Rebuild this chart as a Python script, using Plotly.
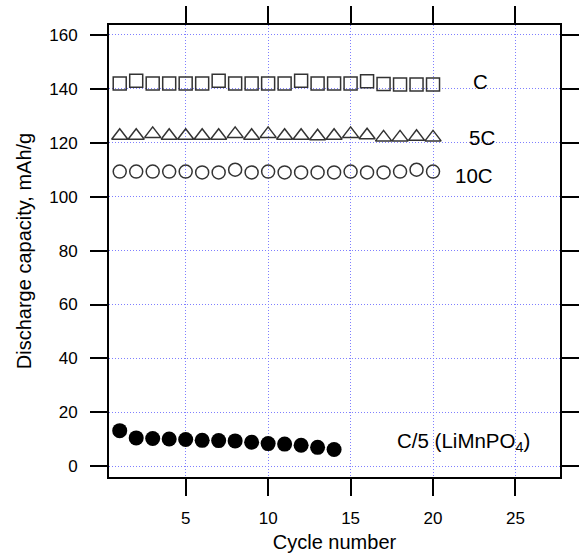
import plotly.graph_objects as go

cycles_c = list(range(1, 21))
cap_c = [142.0, 143.0, 142.0, 142.0, 142.0, 142.0, 143.0, 142.0, 142.0, 142.0,
         142.0, 143.0, 142.0, 142.0, 142.0, 142.8, 141.8, 141.6, 141.6, 141.6]
cap_5c = [122.6, 122.6, 123.3, 122.6, 122.6, 122.6, 122.6, 123.3, 122.6, 123.3,
          122.6, 122.6, 122.4, 122.6, 123.3, 122.8, 122.0, 122.0, 122.2, 122.0]
cap_10c = [109.3, 109.3, 109.3, 109.3, 109.3, 109.0, 109.0, 110.0, 109.0, 109.3,
           109.0, 109.0, 109.0, 109.0, 109.3, 109.0, 109.0, 109.3, 110.0, 109.3]
cycles_lmp = list(range(1, 15))
cap_lmp = [13.2, 10.5, 10.3, 10.1, 9.9, 9.6, 9.5, 9.4, 8.9, 8.4, 8.2, 7.8, 7.0, 6.2]

labels = ["C", "5C", "10C", "C/5 (LiMnPO<sub>4</sub>)"]
label_x = [22.9, 22.97, 22.5, 21.84]
label_y = [142.7, 122.0, 107.9, 9.0]

x_ticks = [5, 10, 15, 20, 25]
y_ticks = [0, 20, 40, 60, 80, 100, 120, 140, 160]

FONT = "Liberation Sans, Arial, Helvetica"
mk_line = dict(color="#333333", width=1.5)
fig = go.Figure()
fig.add_trace(go.Scatter(x=cycles_c, y=cap_c, mode="markers",
                         marker=dict(symbol="square-open", size=13, color="#333333", line=mk_line)))
fig.add_trace(go.Scatter(x=cycles_c, y=cap_5c, mode="markers",
                         marker=dict(symbol="triangle-up-open", size=14, color="#333333", line=mk_line)))
fig.add_trace(go.Scatter(x=cycles_c, y=cap_10c, mode="markers",
                         marker=dict(symbol="circle-open", size=13, color="#333333", line=mk_line)))
fig.add_trace(go.Scatter(x=cycles_lmp, y=cap_lmp, mode="markers",
                         marker=dict(symbol="circle", size=15, color="black")))

for t, x, y in zip(labels, label_x, label_y):
    fig.add_annotation(x=x, y=y, text=t, showarrow=False, xanchor="center", yanchor="middle",
                       font=dict(size=20.5, color="black", family=FONT))

axis_common = dict(showline=True, linewidth=2, linecolor="black", mirror="ticks",
                   ticks="outside", ticklen=17, tickwidth=2, tickcolor="black",
                   showgrid=True, gridcolor="#7f7fff", griddash="1px,2px", gridwidth=1,
                   zeroline=False, automargin=False,
                   tickfont=dict(size=17, color="black", family=FONT))

fig.update_xaxes(range=[0.35, 27.7], tickvals=x_ticks, ticklabelstandoff=8,
                 title=dict(text="Cycle number", font=dict(size=20, color="black", family=FONT), standoff=8),
                 **axis_common)
fig.update_yaxes(range=[-4, 163.7], tickvals=y_ticks, ticklabelstandoff=9,
                 title=dict(text="Discharge capacity, mAh/g", font=dict(size=20, color="black", family=FONT), standoff=12),
                 **axis_common)

fig.update_layout(width=580, height=556, showlegend=False,
                  margin=dict(l=109, r=20, t=25, b=79),
                  plot_bgcolor="white", paper_bgcolor="white",
                  font=dict(family=FONT, color="black"))

fig.write_html("out.html", config={"displayModeBar": False},
               post_script="document.body.style.margin='0';")
